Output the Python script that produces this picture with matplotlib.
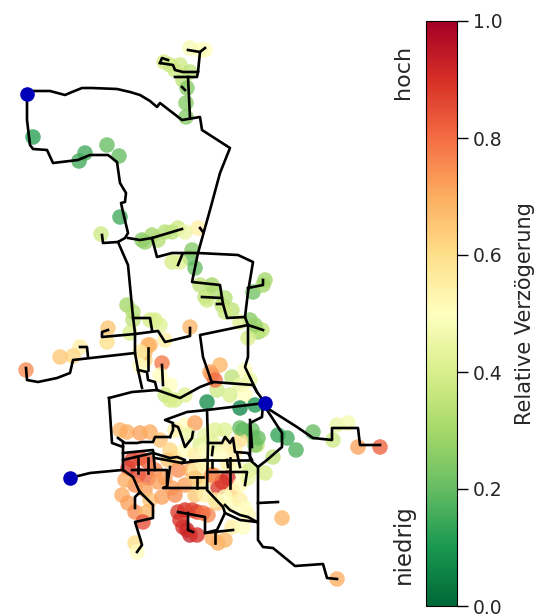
import numpy as np
import matplotlib.pyplot as plt
from matplotlib import cm
from matplotlib.colors import Normalize

# network strands in image pixels
edges = [
    [(27,94),(33,91),(50,91),(65,95),(72,92),(82,88),(92,88),(117,89),(130,92),(140,95),(150,101),(157,107),(160,103),(182,120),(200,117),(202,130),(230,148),(220,173),(210,210),(198,253),(192,282),(220,285),(222,298),(202,297)],
    [(27,94),(27,120),(30,145),(33,149),(47,150),(53,163),(78,160),(90,155),(108,155),(117,162),(120,183),(126,193),(125,202),(121,203),(123,212),(128,233),(125,238),(118,242),(103,243),(102,235)],
    [(118,242),(128,265),(133,317),(135,333),(135,353),(138,370),(142,388)],
    [(128,238),(140,240),(152,238),(182,229)],
    [(152,238),(157,257),(172,253),(198,253),(238,255),(253,262),(248,292),(245,317),(248,325),(248,357),(245,367),(257,392),(265,403)],
    [(182,255),(178,265)],
    [(200,228),(203,232)],
    [(248,288),(263,285),(263,280)],
    [(222,298),(223,304),(217,304)],
    [(223,304),(227,318),(245,317)],
    [(248,325),(263,330)],
    [(248,325),(200,335),(203,357),(212,383)],
    [(133,318),(150,318),(152,330)],
    [(135,334),(158,331),(165,342),(190,336),(190,328)],
    [(135,334),(102,337),(102,332),(108,330)],
    [(135,353),(73,360),(70,373),(57,378),(38,382),(27,380),(26,368)],
    [(88,357),(87,347),(80,347)],
    [(148,348),(148,370)],
    [(162,365),(163,385)],
    [(138,370),(147,372),(148,380),(155,382),(157,390)],
    [(109,398),(132,392),(157,390),(180,398),(200,387),(213,382),(253,385),(257,392)],
    [(109,398),(112,443),(123,447)],
    [(265,403),(207,410),(187,412),(165,420),(173,423),(173,430),(170,437)],
    [(173,425),(178,427),(180,432),(185,447),(192,438),(193,432)],
    [(207,410),(208,443),(207,490),(223,507),(225,513),(217,530),(205,533)],
    [(208,443),(222,443),(225,437),(230,443),(233,438),(235,452),(248,453),(252,460)],
    [(190,460),(248,460)],
    [(212,460),(212,467)],
    [(227,460),(228,467)],
    [(237,453),(240,467)],
    [(210,472),(247,472),(245,485)],
    [(197,477),(197,488)],
    [(190,477),(203,477)],
    [(250,420),(252,447)],
    [(70,478),(90,473),(122,470)],
    [(118,438),(125,443),(137,443),(142,442),(153,442),(155,437),(163,437),(170,437)],
    [(123,443),(123,470),(133,477),(140,493)],
    [(123,453),(153,450),(155,470)],
    [(123,460),(153,453),(170,458),(177,457),(185,460),(182,463),(155,458)],
    [(182,463),(205,460)],
    [(132,470),(167,470),(167,487),(163,488),(207,488)],
    [(138,458),(138,473)],
    [(148,458),(148,473)],
    [(170,467),(167,487)],
    [(225,505),(230,510),(240,515),(248,517),(257,522)],
    [(225,513),(240,520),(257,522)],
    [(258,467),(258,540),(263,547),(273,548),(295,566),(323,564),(327,578),(337,579)],
    [(258,503),(278,502)],
    [(263,403),(262,417),(250,423),(250,460),(258,467),(267,460),(282,447),(282,433),(267,410),(265,403)],
    [(267,408),(297,427),(313,438),(332,440),(332,428),(358,428),(360,445),(380,445)],
    [(140,492),(153,505),(153,518),(135,522),(140,538),(142,545),(137,552)],
    [(140,492),(135,497),(135,508)],
    [(178,512),(205,517),(205,533),(233,530)],
    [(188,513),(188,530),(193,532)],
    [(215,533),(215,543)],
    [(188,77),(190,118)],
    [(182,87),(185,90)],
    [(160,63),(162,58),(168,60)],
    [(160,63),(173,65),(175,70),(183,72),(198,72),(200,52),(188,50)],
    [(200,52),(205,48)],
    [(175,77),(197,77),(198,72)],
    [(213,447),(212,455)],
    [(230,458),(230,488)],
]

# nodes: x, y and relative delay
node_x = [33,79,85,107,119,120,164,180,183,187,186,186,200,170,175,190,205,190,
          101,142,152,165,178,198,172,190,195,192,212,205,222,232,265,253,250,258,
          158,145,172,185,180,200,215,225,207,225,240,263,262,255,248,
          127,133,130,155,108,107,190,148,145,162,80,73,60,26,220,212,232,240,170,
          133,150,160,145,150,140,140,165,170,160,165,175,185,217,245,230,245,250,210,215,
          207,240,255,243,253,257,278,287,296,273,265,313,333,337,348,358,380,
          120,127,140,150,160,170,175,168,
          132,140,148,128,138,148,135,145,125,122,
          155,165,178,190,185,172,195,205,158,150,
          185,175,195,188,200,185,210,195,
          215,225,205,215,228,240,205,220,235,195,205,215,228,240,250,232,222,228,218,212,240,248,200,195,205,
          240,252,255,258,
          128,135,147,143,135,137,178,185,197,208,183,190,180,187,197,192,203,
          212,218,225,232,243,248,232,217,282,337,162,175,215,225,240,245]
node_y = [137,161,153,145,156,217,62,65,80,88,103,117,50,65,70,72,50,48,
          234,240,235,232,228,228,262,258,268,250,285,297,305,310,280,292,320,332,
          240,242,232,232,262,285,292,298,300,312,322,285,330,325,338,
          305,320,333,320,328,342,327,345,360,363,347,356,357,370,365,375,377,385,400,
          312,320,325,352,345,352,366,340,385,375,395,400,395,390,370,395,395,380,372,380,
          402,408,405,430,437,445,435,438,450,457,473,432,440,425,423,447,447,
          430,432,433,432,440,450,458,460,
          460,458,462,468,475,478,485,490,480,495,
          470,478,470,470,485,488,495,480,482,500,
          425,430,423,435,445,450,440,455,
          430,430,435,445,445,440,450,455,452,470,465,475,465,470,470,490,482,478,488,475,485,478,485,478,495,
          428,430,445,438,
          503,512,512,522,543,552,512,510,512,515,527,535,520,530,535,510,513,
          538,543,540,527,527,515,505,503,518,579,497,495,500,497,500,508]
node_delay = [.12,.15,.15,.2,.2,.15,.4,.38,.35,.25,.25,.25,.5,.38,.38,.35,.5,.48,
              .38,.25,.3,.33,.38,.55,.4,.2,.2,.25,.3,.35,.35,.35,.3,.22,.25,.3,
              .33,.27,.35,.45,.42,.35,.32,.33,.38,.38,.42,.3,.35,.28,.4,
              .3,.35,.4,.4,.65,.6,.68,.7,.62,.78,.55,.62,.65,.75,.68,.75,.35,.45,.4,
              .33,.4,.42,.68,.68,.55,.5,.55,.5,.5,.38,.4,.42,.38,.5,.4,.5,.45,.72,.8,
              .08,.07,.1,.18,.25,.35,.13,.15,.17,.35,.4,.2,.38,.45,.47,.72,.82,
              .68,.7,.72,.7,.66,.62,.6,.65,
              .87,.85,.82,.88,.86,.82,.75,.72,.7,.7,
              .75,.72,.75,.7,.72,.72,.65,.6,.72,.66,
              .5,.55,.72,.45,.42,.5,.42,.55,
              .42,.42,.45,.45,.55,.6,.5,.5,.55,.55,.55,.62,.55,.5,.4,.62,.9,.9,.88,.78,.5,.45,.58,.65,.55,
              .2,.2,.25,.2,
              .72,.75,.68,.85,.6,.5,.88,.9,.87,.75,.9,.93,.9,.92,.9,.87,.8,
              .7,.7,.68,.55,.5,.52,.5,.65,.68,.7,.72,.75,.55,.5,.55,.5]

# feeding stations
source_x = [27, 265, 70]
source_y = [94, 403, 478]

cbar_ticks = [0.0, 0.2, 0.4, 0.6, 0.8, 1.0]

fig = plt.figure(figsize=(5.42, 6.16), dpi=100)
ax = fig.add_axes([0, 0, 1, 1])
ax.set_xlim(0, 542)
ax.set_ylim(616, 0)
ax.axis('off')

norm = Normalize(0, 1)
ax.scatter(node_x, node_y, c=node_delay, cmap='RdYlGn_r', norm=norm, s=125, alpha=0.78, linewidths=0, zorder=1)

for edge in edges:
    xs, ys = zip(*edge)
    ax.plot(xs, ys, color='black', lw=1.9, solid_joinstyle='round', zorder=2)

ax.scatter(source_x, source_y, color='#0000b8', s=110, linewidths=0, zorder=3)

# colorbar
cax = fig.add_axes([426/542, 1 - 606/616, 31/542, 585/616])
cbar = fig.colorbar(cm.ScalarMappable(norm=norm, cmap='RdYlGn_r'), cax=cax)
cbar.set_ticks(cbar_ticks)
cbar.ax.tick_params(labelsize=13.5, length=8, width=1, labelcolor='#262626')
cbar.set_label('Relative Verzögerung', fontsize=15, color='#262626', labelpad=9)

fig.text(403/542, 1 - 72/616, 'hoch', rotation=90, fontsize=16, color='#262626', ha='center', va='center')
fig.text(403/542, 1 - 544/616, 'niedrig', rotation=90, fontsize=16.5, color='#262626', ha='center', va='center')

fig.savefig('out.png', dpi=100)
